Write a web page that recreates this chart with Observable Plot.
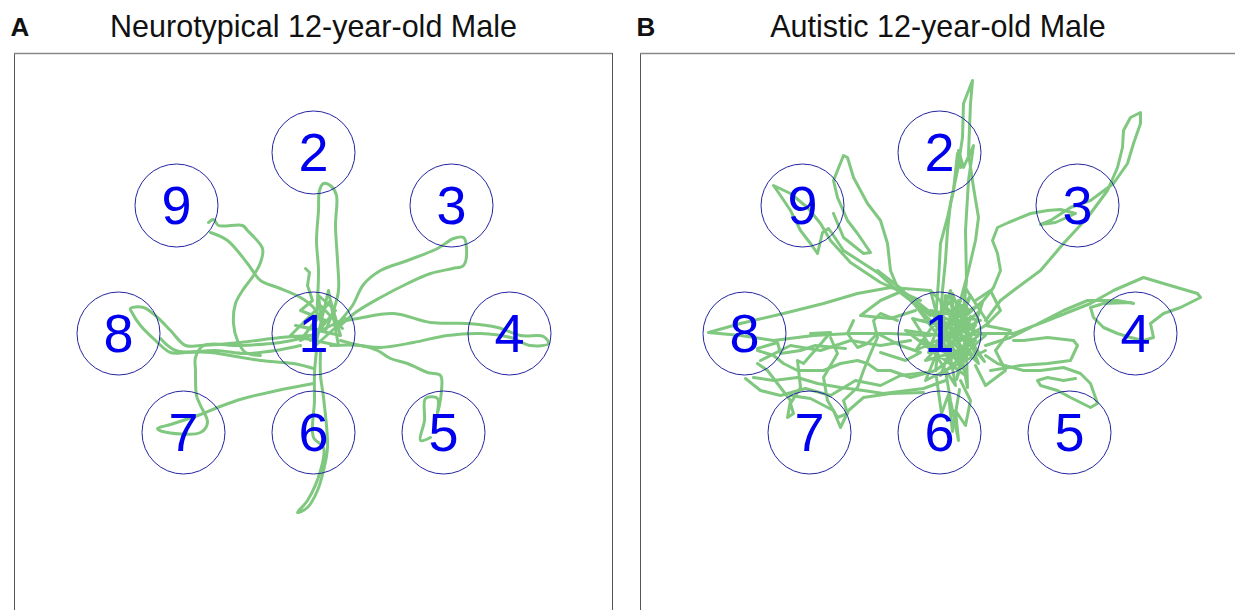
<!DOCTYPE html>
<html>
<head>
<meta charset="utf-8">
<script src="https://cdn.jsdelivr.net/npm/d3@7"></script>
<script src="https://cdn.jsdelivr.net/npm/@observablehq/plot@0.6"></script>
<style>
  html, body { margin: 0; padding: 0; background: #fff; }
  #wrap { display: flex; width: 1235px; height: 610px; overflow: hidden; }
  svg { display: block; }
</style>
</head>
<body>
<div id="wrap"></div>
<script>
// Target positions (arena units, y measured downward from the top wall)
const targetLabels = ["1", "2", "3", "4", "5", "6", "7", "8", "9"];
const targetX = [29.9, 29.9, 43.7, 49.5, 42.9, 29.9, 16.9, 10.4, 16.2];
const targetY = [28.0, 9.9, 15.2, 28.0, 37.9, 37.9, 37.9, 28.0, 15.2];

const panelLetters = ["A", "B"];
const panelTitles = ["Neurotypical 12-year-old Male", "Autistic 12-year-old Male"];

// Panel A: smooth trajectory segments [x, y] in arena units
const pathsA = [
  [[30.2,26.7],[30.3,24.7],[30.4,21.7],[30.2,18.7],[30.4,15.7],[30.5,13.7],[30.9,13.0],[31.7,13.3],[32.2,14.2],[32.1,17.2],[32.3,20.7],[32.4,23.7],[31.9,25.7],[31.1,27.7]],
  [[32.6,26.7],[33.8,25.2],[34.9,23.1],[36.6,21.7],[39.3,20.7],[42.3,19.5],[43.9,18.5],[44.9,18.4],[45.2,19.4],[44.9,21.2],[43.8,21.5],[41.6,22.0],[39.3,23.0],[36.6,24.4],[34.1,25.9],[32.6,27.2]],
  [[32.1,26.9],[34.3,26.5],[37.9,26.0],[41.6,26.9],[45.3,27.0],[48.3,27.4],[50.6,28.2],[52.9,28.3],[53.4,29.0],[51.6,29.2],[49.6,28.4],[46.6,28.0],[43.3,28.2],[39.9,28.9],[36.6,29.4],[34.6,29.2],[32.6,28.7]],
  [[31.6,29.2],[34.6,29.2],[36.3,29.7],[37.6,30.5],[39.3,31.0],[41.3,31.9],[42.6,32.2],[42.7,33.7],[42.3,36.0],[42.3,34.5],[41.1,34.5],[41.0,36.7],[40.6,38.7],[41.6,38.4]],
  [[30.2,29.7],[30.0,32.0],[30.0,34.7],[29.9,38.4],[30.9,39.4],[30.6,41.7],[29.3,44.7],[28.3,45.9],[29.3,45.4],[30.3,43.7],[30.9,41.7],[31.3,39.4],[30.9,34.4],[30.6,32.2],[30.6,29.7]],
  [[29.9,33.0],[26.3,33.7],[22.9,34.5],[20.3,35.4],[18.6,36.1],[15.6,37.1],[14.3,37.5],[14.8,37.8],[18.6,37.9],[19.3,36.9],[18.6,35.2],[18.2,34.2],[18.1,31.7],[18.1,30.4],[18.9,29.2],[22.6,29.2],[26.6,28.9],[28.6,28.5]],
  [[29.6,28.2],[26.6,28.4],[22.6,28.9],[18.6,29.2],[17.1,29.2],[15.6,27.7],[14.3,26.4],[12.9,25.4],[11.6,25.5],[11.8,26.0],[12.6,27.2],[14.1,28.7],[15.6,29.9],[17.1,29.9],[20.1,29.7],[23.1,30.0],[26.1,29.7],[28.6,29.2]],
  [[19.4,16.9],[19.9,16.6],[20.4,17.2],[22.8,17.2],[23.3,17.7],[24.8,19.5],[24.6,20.9],[23.9,22.2],[22.8,23.7],[22.1,25.0],[21.9,27.0],[22.3,28.7],[23.1,29.9],[24.6,30.2]],
  [[19.6,17.9],[21.3,18.7],[23.3,21.0],[24.6,22.7],[26.3,23.4],[28.6,24.4],[29.9,25.4],[30.6,26.7]],
  [[14.6,28.5],[16.1,29.7],[19.6,29.9],[24.6,30.7],[27.9,31.0],[29.9,31.5]]
];

// Panel A: jagged knot inside the centre target
const knotA = [
  [[29.1,21.5],[29.5,21.9],[29.3,23.2],[29.8,24.7],[28.6,25.7],[31.1,26.7],[29.6,28.7],[32.1,25.7],[30.4,24.2],[30.8,27.7],[28.1,27.2],[32.6,28.2],[31.6,24.7],[28.6,28.7],[33.1,26.5],[30.1,29.2],[31.4,23.7],[32.4,29.2],[27.6,28.2],[30.6,25.2],[32.8,27.5]]
];

// Panel B trajectory segments
const pathsB = [
  [[30.0,26.7],[30.2,23.7],[30.5,20.7],[30.7,17.7],[31.0,15.0],[31.7,11.7],[32.2,8.4],[32.3,5.0],[33.2,2.7],[33.0,5.0],[32.8,10.0],[33.3,13.4],[33.8,16.4],[33.5,18.7],[32.8,21.7],[32.0,24.7],[31.0,27.7]],
  [[29.5,26.7],[29.8,22.7],[30.0,19.0],[30.7,16.4],[31.3,13.7],[31.7,10.0],[32.0,11.4],[31.8,9.7],[32.3,11.4],[33.3,9.2],[32.8,12.7],[32.5,17.7],[32.6,22.7],[32.2,26.7]],
  [[34.5,26.7],[36.0,24.7],[37.3,23.7],[40.0,21.7],[42.3,19.0],[44.7,16.4],[46.7,13.7],[47.7,11.4],[48.2,9.4],[48.3,7.7],[49.0,6.4],[50.0,5.9],[50.0,7.0],[49.3,9.0],[48.7,11.0],[47.3,13.0],[45.0,14.7],[43.0,15.4],[41.0,16.7],[40.0,17.1],[41.5,16.9],[43.5,16.0],[42.0,15.6],[40.7,15.7],[39.0,16.0],[36.8,16.9],[35.7,17.4],[35.2,18.7],[35.7,20.0],[36.0,21.7],[35.3,23.4],[34.3,24.7],[32.0,26.7]],
  [[34.0,28.0],[37.3,28.0],[40.7,26.7],[45.0,25.0],[47.3,23.7],[50.3,22.4],[52.3,23.0],[55.7,24.0],[56.0,24.4],[54.0,25.4],[52.3,26.0],[51.0,27.0],[51.3,28.4],[50.3,28.7],[49.0,28.4],[47.7,28.0],[46.3,27.4],[45.3,26.4],[45.0,25.4],[46.3,25.0],[49.0,24.9],[49.3,25.0],[47.7,24.7],[44.7,24.7],[42.3,25.7],[39.0,27.4],[37.0,28.4],[34.5,29.2]],
  [[34.5,30.2],[35.7,31.0],[38.3,31.7],[40.0,31.7],[42.3,31.4],[44.0,32.0],[45.0,33.0],[45.7,35.0],[45.0,35.4],[43.0,34.4],[41.7,33.7],[40.0,33.2],[39.7,32.7],[40.7,32.4],[42.3,32.7],[43.5,32.5]],
  [[37.3,28.7],[38.3,28.7],[40.7,28.4],[43.3,28.7],[43.7,29.2],[43.0,30.7],[40.7,31.0],[38.0,31.2],[35.0,31.7]],
  [[30.0,26.7],[27.5,24.7],[25.7,23.4],[25.0,21.7],[24.7,19.0],[24.0,16.7],[22.7,15.0],[21.3,12.4],[20.7,10.4],[20.3,10.2],[19.7,11.7],[19.3,12.7],[19.7,14.4],[20.7,16.7],[21.7,18.0],[23.0,19.9],[22.3,20.0],[20.3,18.4],[19.3,16.0]],
  [[29.0,26.2],[25.7,23.7],[23.7,21.9],[22.3,21.0],[20.3,19.7],[19.3,18.2],[18.8,17.5],[18.2,17.9],[17.7,20.0],[17.0,19.0],[16.0,17.7],[15.0,15.7],[14.0,14.2],[13.3,13.2],[15.0,14.0],[16.7,15.4],[18.0,17.0],[19.0,18.7],[21.0,20.9],[24.0,22.9],[28.0,24.7]],
  [[29.0,23.7],[25.0,23.4],[21.7,24.0],[18.3,25.0],[14.3,26.0],[10.0,27.0],[6.8,27.9],[10.0,28.2],[13.3,28.7],[17.3,28.2],[21.0,28.0],[25.0,28.0],[29.0,28.2]],
  [[11.7,29.7],[13.3,30.2],[14.3,31.0],[15.7,31.7],[18.3,31.7],[20.0,31.0],[21.7,30.7],[22.7,31.0],[23.7,31.7],[25.0,31.7],[27.0,32.4],[29.5,31.7]],
  [[11.3,32.4],[13.3,32.7],[15.7,32.4],[17.7,33.0],[20.0,33.4],[22.3,33.7],[24.3,34.0],[26.7,33.7],[28.3,33.5],[30.5,32.7]],
  [[19.0,28.4],[19.7,30.0],[18.3,32.4],[18.7,34.7],[19.7,36.4],[20.7,36.0],[20.3,34.7],[21.7,33.4],[22.3,31.7],[23.0,30.0],[23.7,28.4],[23.3,26.7],[24.0,26.0],[25.7,26.7]],
  [[17.0,28.0],[19.0,27.9],[17.7,29.4],[16.3,31.0],[15.7,30.7],[16.0,33.4],[15.0,35.0],[15.3,36.0],[14.7,36.4],[15.0,34.7],[14.0,33.4],[12.7,31.7],[11.7,31.0]],
  [[21.3,26.7],[20.7,28.0],[21.7,29.4],[22.7,29.0],[23.7,28.0],[26.0,29.2],[28.0,29.9],[26.5,30.7],[24.0,29.9]],
  [[11.7,29.5],[13.7,28.9],[14.0,30.0],[16.0,29.7],[17.5,29.2],[20.5,29.5]],
  [[15.0,34.2],[17.0,34.5],[19.3,35.7],[20.0,37.4],[20.8,35.7],[22.3,34.4],[25.0,34.0],[28.3,33.9]],
  [[10.5,32.5],[12.0,33.7],[14.0,34.2],[16.5,33.5],[19.0,34.2],[21.5,32.7],[24.0,33.2],[26.0,32.2],[28.5,31.9]],
  [[12.0,30.7],[15.0,29.2],[18.0,29.7],[21.0,28.7],[24.0,29.2],[27.0,28.7]],
  [[23.7,21.7],[25.0,22.7],[26.3,23.7],[24.0,24.7],[22.0,26.2],[25.0,26.5],[27.5,25.7]],
  [[27.0,24.7],[32.0,29.7],[28.5,30.7],[33.0,25.7],[30.5,24.2],[29.5,31.7],[33.5,28.7],[26.5,27.7],[32.5,32.2],[31.0,24.7],[27.5,29.7],[34.0,26.7],[29.0,25.7],[32.0,30.7],[28.0,28.7],[33.2,30.2],[30.0,24.7],[31.5,33.2],[27.2,26.5],[33.8,28.2],[30.8,30.7],[29.0,23.7],[32.8,27.7],[31.8,24.7],[28.5,32.7],[34.5,29.7]],
  [[28.0,26.7],[33.5,27.2],[29.5,29.2],[33.0,24.2],[30.0,32.2],[34.5,28.2],[27.5,25.2],[32.2,31.5],[31.0,23.7],[28.8,29.9],[34.0,25.7],[30.5,28.7]],
  [[31.2,24.0],[33.8,31.0],[30.2,27.3],[34.2,24.9],[31.6,32.6],[33.0,26.3],[30.9,29.4],[34.8,27.0],[32.4,23.3],[32.7,33.4],[31.3,26.0],[34.4,30.8],[32.1,28.1]],
  [[30.5,31.7],[31.0,34.7],[31.8,38.7],[31.5,35.7],[32.5,37.2],[33.0,34.7],[32.0,32.7]],
  [[29.6,32.4],[30.1,36.0],[30.8,34.1],[31.2,37.8],[31.9,33.6]],
  [[33.5,24.7],[35.0,23.7],[36.0,25.7],[34.5,27.2],[37.0,27.7],[35.5,29.7],[36.5,31.7],[34.5,33.2],[33.5,31.2]]
];

const targets = targetLabels.map((label, i) => ({label, x: targetX[i], y: targetY[i]}));
const toRows = paths => paths.flatMap((pts, i) => pts.map(([x, y]) => ({path: i, x, y})));

const FONT = "'Liberation Sans', Arial, Helvetica, sans-serif";
const GREEN = "#80c880";

function panel({letter, title, smooth, jagged, width, marginLeft, marginRight, xMax, walls}) {
  const lineOpts = {x: "x", y: "y", z: "path", stroke: GREEN, strokeWidth: 3,
    strokeLinejoin: "round", strokeLinecap: "round"};
  return Plot.plot({
    width, height: 610,
    marginLeft, marginRight, marginTop: 53, marginBottom: 0,
    x: {domain: [0, xMax], axis: null},
    y: {domain: [0, 55.7], reverse: true, axis: null},
    style: {fontFamily: FONT, background: "#fff", overflow: "visible"},
    marks: [
      Plot.line(toRows(smooth), {...lineOpts, curve: "catmull-rom"}),
      Plot.line(toRows(jagged), {...lineOpts, curve: "linear"}),
      Plot.dot(targets, {x: "x", y: "y", r: 41.5, stroke: "#2424a0", strokeWidth: 1, fill: "none"}),
      Plot.text(targets, {x: "x", y: "y", text: "label", fontSize: 54, fill: "#0000ee", dy: 1}),
      Plot.ruleX(walls, {stroke: "#555", strokeWidth: 1}),
      Plot.ruleY([0], {stroke: "#888", strokeWidth: 1.5}),
      Plot.text([letter], {frameAnchor: "top-left", text: d => d, dx: -4, dy: -26, lineAnchor: "middle",
        textAnchor: "start", fontSize: 26, fontWeight: "bold", fill: "#111"}),
      Plot.text([title], {frameAnchor: "top", text: d => d, dy: -26, lineAnchor: "middle",
        fontSize: 30.5, fill: "#111"})
    ]
  });
}

const wrap = document.getElementById("wrap");
wrap.append(panel({letter: panelLetters[0], title: panelTitles[0], smooth: pathsA, jagged: knotA,
  width: 620, marginLeft: 14, marginRight: 8, xMax: 59.8, walls: [0, 59.8]}));
wrap.append(panel({letter: panelLetters[1], title: panelTitles[1], smooth: [], jagged: pathsB,
  width: 615, marginLeft: 20, marginRight: 0, xMax: 59.5, walls: [0]}));
</script>
</body>
</html>
